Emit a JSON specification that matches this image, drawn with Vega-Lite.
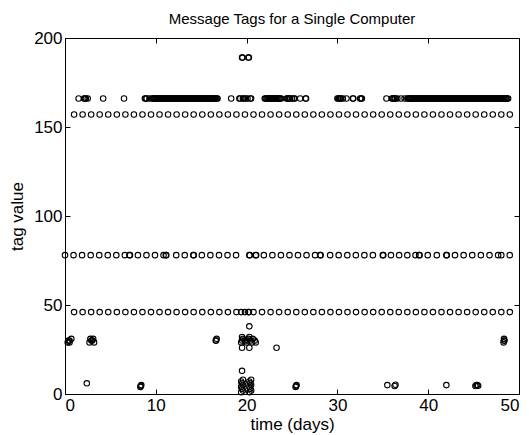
{
  "$schema": "https://vega.github.io/schema/vega-lite/v6.json",
  "width": 454,
  "height": 356,
  "autosize": {"type": "none"},
  "padding": {"left": 65, "top": 38, "right": 10, "bottom": 41},
  "background": "white",
  "title": {"text": "Message Tags for a Single Computer", "fontSize": 15, "font": "Liberation Sans", "fontWeight": "normal", "color": "black", "offset": 2, "anchor": "middle"},
  "config": {
    "view": {"stroke": "black", "strokeWidth": 1},
    "axis": {"labelFont": "Liberation Sans", "titleFont": "Liberation Sans", "labelFontSize": 17, "titleFontSize": 17, "titleFontWeight": "normal", "labelColor": "black", "titleColor": "black", "domainColor": "black", "tickColor": "black", "grid": false, "tickSize": -5, "labelPadding": 8}
  },
  "datasets": {
    "pts": [
      {"t":1.00,"tag":157},{"t":1.94,"tag":157},{"t":2.88,"tag":157},{"t":3.82,"tag":157},{"t":4.76,"tag":157},{"t":5.71,"tag":157},{"t":6.65,"tag":157},{"t":7.59,"tag":157},{"t":8.53,"tag":157},{"t":9.47,"tag":157},{"t":10.41,"tag":157},{"t":11.35,"tag":157},{"t":12.29,"tag":157},{"t":13.23,"tag":157},{"t":14.17,"tag":157},{"t":15.12,"tag":157},{"t":16.06,"tag":157},{"t":17.00,"tag":157},{"t":17.94,"tag":157},{"t":18.88,"tag":157},{"t":19.82,"tag":157},{"t":20.76,"tag":157},{"t":21.70,"tag":157},{"t":22.64,"tag":157},{"t":23.58,"tag":157},{"t":24.53,"tag":157},{"t":25.47,"tag":157},{"t":26.41,"tag":157},{"t":27.35,"tag":157},{"t":28.29,"tag":157},{"t":29.23,"tag":157},{"t":30.17,"tag":157},{"t":31.11,"tag":157},{"t":32.05,"tag":157},{"t":33.00,"tag":157},{"t":33.94,"tag":157},{"t":34.88,"tag":157},{"t":35.82,"tag":157},{"t":36.76,"tag":157},{"t":37.70,"tag":157},{"t":38.64,"tag":157},{"t":39.58,"tag":157},{"t":40.52,"tag":157},{"t":41.46,"tag":157},{"t":42.40,"tag":157},{"t":43.35,"tag":157},{"t":44.29,"tag":157},{"t":45.23,"tag":157},{"t":46.17,"tag":157},{"t":47.11,"tag":157},{"t":48.05,"tag":157},{"t":48.99,"tag":157},

      {"t":1.00,"tag":46},{"t":1.94,"tag":46},{"t":2.88,"tag":46},{"t":3.82,"tag":46},{"t":4.76,"tag":46},{"t":5.71,"tag":46},{"t":6.65,"tag":46},{"t":7.59,"tag":46},{"t":8.53,"tag":46},{"t":9.47,"tag":46},{"t":10.41,"tag":46},{"t":11.35,"tag":46},{"t":12.29,"tag":46},{"t":13.23,"tag":46},{"t":14.17,"tag":46},{"t":15.12,"tag":46},{"t":16.06,"tag":46},{"t":17.00,"tag":46},{"t":17.94,"tag":46},{"t":18.88,"tag":46},{"t":19.40,"tag":46},{"t":19.82,"tag":46},{"t":20.20,"tag":46},{"t":20.25,"tag":46},{"t":20.76,"tag":46},{"t":21.70,"tag":46},{"t":22.64,"tag":46},{"t":23.58,"tag":46},{"t":24.53,"tag":46},{"t":25.47,"tag":46},{"t":26.41,"tag":46},{"t":27.35,"tag":46},{"t":28.29,"tag":46},{"t":29.23,"tag":46},{"t":30.17,"tag":46},{"t":31.11,"tag":46},{"t":32.05,"tag":46},{"t":33.00,"tag":46},{"t":33.94,"tag":46},{"t":34.88,"tag":46},{"t":35.82,"tag":46},{"t":36.76,"tag":46},{"t":37.70,"tag":46},{"t":38.64,"tag":46},{"t":39.58,"tag":46},{"t":40.52,"tag":46},{"t":41.46,"tag":46},{"t":42.40,"tag":46},{"t":43.35,"tag":46},{"t":44.29,"tag":46},{"t":45.23,"tag":46},{"t":46.17,"tag":46},{"t":47.11,"tag":46},{"t":48.05,"tag":46},{"t":48.99,"tag":46},

      {"t":0.00,"tag":78},{"t":0.94,"tag":78},{"t":1.88,"tag":78},{"t":2.83,"tag":78},{"t":3.77,"tag":78},{"t":4.71,"tag":78},{"t":5.65,"tag":78},{"t":6.59,"tag":78},{"t":7.10,"tag":78},{"t":7.15,"tag":78},{"t":8.03,"tag":78},{"t":8.97,"tag":78},{"t":9.91,"tag":78},{"t":10.85,"tag":78},{"t":11.10,"tag":78},{"t":11.15,"tag":78},{"t":12.25,"tag":78},{"t":13.19,"tag":78},{"t":14.13,"tag":78},{"t":14.18,"tag":78},{"t":15.07,"tag":78},{"t":16.01,"tag":78},{"t":16.96,"tag":78},{"t":17.90,"tag":78},{"t":18.84,"tag":78},{"t":20.30,"tag":78},{"t":20.35,"tag":78},{"t":21.00,"tag":78},{"t":21.05,"tag":78},{"t":21.90,"tag":78},{"t":22.84,"tag":78},{"t":23.78,"tag":78},{"t":24.72,"tag":78},{"t":25.66,"tag":78},{"t":26.60,"tag":78},{"t":27.54,"tag":78},{"t":28.10,"tag":78},{"t":28.15,"tag":78},{"t":29.20,"tag":78},{"t":30.14,"tag":78},{"t":31.09,"tag":78},{"t":32.03,"tag":78},{"t":32.97,"tag":78},{"t":33.91,"tag":78},{"t":35.00,"tag":78},{"t":35.05,"tag":78},{"t":35.90,"tag":78},{"t":36.80,"tag":78},{"t":37.70,"tag":78},{"t":38.60,"tag":78},{"t":39.00,"tag":78},{"t":39.05,"tag":78},{"t":39.95,"tag":78},{"t":40.95,"tag":78},{"t":42.00,"tag":78},{"t":42.05,"tag":78},{"t":42.95,"tag":78},{"t":43.90,"tag":78},{"t":44.85,"tag":78},{"t":45.80,"tag":78},{"t":46.75,"tag":78},{"t":47.70,"tag":78},{"t":48.98,"tag":78},{"t":48.05,"tag":78},

      {"t":1.5,"tag":166},{"t":2.1,"tag":166},{"t":2.2,"tag":166},{"t":2.3,"tag":166},{"t":2.5,"tag":166},{"t":4.2,"tag":166},{"t":6.5,"tag":166},
      {"t":8.8,"tag":166},{"t":8.9,"tag":166},{"t":9.0,"tag":166},{"t":9.3,"tag":166},{"t":9.6,"tag":166},{"t":9.7,"tag":166},{"t":9.8,"tag":166},{"t":9.9,"tag":166},{"t":10.0,"tag":166},{"t":10.1,"tag":166},{"t":10.2,"tag":166},{"t":10.3,"tag":166},{"t":10.4,"tag":166},{"t":10.5,"tag":166},{"t":10.6,"tag":166},{"t":10.7,"tag":166},{"t":10.8,"tag":166},{"t":10.9,"tag":166},{"t":11.0,"tag":166},{"t":11.1,"tag":166},{"t":11.2,"tag":166},{"t":11.3,"tag":166},{"t":11.4,"tag":166},{"t":11.5,"tag":166},{"t":11.6,"tag":166},{"t":11.7,"tag":166},{"t":11.8,"tag":166},{"t":11.9,"tag":166},{"t":12.0,"tag":166},{"t":12.1,"tag":166},{"t":12.2,"tag":166},{"t":12.3,"tag":166},{"t":12.4,"tag":166},{"t":12.5,"tag":166},{"t":12.6,"tag":166},{"t":12.7,"tag":166},{"t":12.8,"tag":166},{"t":12.9,"tag":166},{"t":13.0,"tag":166},{"t":13.1,"tag":166},{"t":13.2,"tag":166},{"t":13.3,"tag":166},{"t":13.4,"tag":166},{"t":13.5,"tag":166},{"t":13.6,"tag":166},{"t":13.7,"tag":166},{"t":13.8,"tag":166},{"t":13.9,"tag":166},{"t":14.0,"tag":166},{"t":14.1,"tag":166},{"t":14.2,"tag":166},{"t":14.3,"tag":166},{"t":14.4,"tag":166},{"t":14.5,"tag":166},{"t":14.6,"tag":166},{"t":14.7,"tag":166},{"t":14.8,"tag":166},{"t":14.9,"tag":166},{"t":15.0,"tag":166},{"t":15.1,"tag":166},{"t":15.2,"tag":166},{"t":15.3,"tag":166},{"t":15.4,"tag":166},{"t":15.5,"tag":166},{"t":15.6,"tag":166},{"t":15.7,"tag":166},{"t":15.8,"tag":166},{"t":15.9,"tag":166},{"t":16.0,"tag":166},{"t":16.1,"tag":166},{"t":16.2,"tag":166},{"t":16.3,"tag":166},{"t":16.4,"tag":166},{"t":16.5,"tag":166},{"t":16.6,"tag":166},{"t":16.7,"tag":166},{"t":16.8,"tag":166},
      {"t":18.3,"tag":166},{"t":19.2,"tag":166},{"t":19.3,"tag":166},{"t":19.6,"tag":166},{"t":19.7,"tag":166},{"t":19.9,"tag":166},{"t":20.1,"tag":166},{"t":20.4,"tag":166},{"t":20.5,"tag":166},
      {"t":22.0,"tag":166},{"t":22.1,"tag":166},{"t":22.2,"tag":166},{"t":22.3,"tag":166},{"t":22.4,"tag":166},{"t":22.5,"tag":166},{"t":22.6,"tag":166},{"t":22.7,"tag":166},{"t":22.8,"tag":166},{"t":22.9,"tag":166},{"t":23.0,"tag":166},{"t":23.1,"tag":166},{"t":23.2,"tag":166},{"t":23.3,"tag":166},{"t":23.4,"tag":166},{"t":23.5,"tag":166},{"t":23.6,"tag":166},{"t":23.7,"tag":166},{"t":23.8,"tag":166},
      {"t":24.4,"tag":166},{"t":24.5,"tag":166},{"t":24.6,"tag":166},{"t":24.7,"tag":166},{"t":24.8,"tag":166},{"t":25.0,"tag":166},{"t":25.2,"tag":166},{"t":25.3,"tag":166},{"t":25.9,"tag":166},{"t":26.5,"tag":166},{"t":26.55,"tag":166},
      {"t":30.0,"tag":166},{"t":30.1,"tag":166},{"t":30.2,"tag":166},{"t":30.3,"tag":166},{"t":30.4,"tag":166},{"t":30.6,"tag":166},{"t":31.0,"tag":166},{"t":31.7,"tag":166},{"t":31.75,"tag":166},{"t":32.5,"tag":166},{"t":32.6,"tag":166},{"t":32.7,"tag":166},
      {"t":35.4,"tag":166},{"t":36.0,"tag":166},{"t":36.1,"tag":166},{"t":36.2,"tag":166},{"t":36.3,"tag":166},{"t":36.4,"tag":166},{"t":36.6,"tag":166},{"t":37.0,"tag":166},{"t":37.4,"tag":166},
      {"t":37.7,"tag":166},{"t":37.8,"tag":166},{"t":37.9,"tag":166},{"t":38.0,"tag":166},{"t":38.1,"tag":166},{"t":38.2,"tag":166},{"t":38.3,"tag":166},{"t":38.4,"tag":166},{"t":38.5,"tag":166},{"t":38.6,"tag":166},{"t":38.7,"tag":166},{"t":38.8,"tag":166},{"t":38.9,"tag":166},{"t":39.0,"tag":166},{"t":39.1,"tag":166},{"t":39.2,"tag":166},{"t":39.3,"tag":166},{"t":39.4,"tag":166},{"t":39.5,"tag":166},{"t":39.6,"tag":166},{"t":39.7,"tag":166},{"t":39.8,"tag":166},{"t":39.9,"tag":166},{"t":40.0,"tag":166},{"t":40.1,"tag":166},{"t":40.2,"tag":166},{"t":40.3,"tag":166},{"t":40.4,"tag":166},{"t":40.5,"tag":166},{"t":40.6,"tag":166},{"t":40.7,"tag":166},{"t":40.8,"tag":166},{"t":40.9,"tag":166},{"t":41.0,"tag":166},{"t":41.1,"tag":166},{"t":41.2,"tag":166},{"t":41.3,"tag":166},{"t":41.4,"tag":166},{"t":41.5,"tag":166},{"t":41.6,"tag":166},{"t":41.7,"tag":166},{"t":41.8,"tag":166},{"t":41.9,"tag":166},{"t":42.0,"tag":166},{"t":42.1,"tag":166},{"t":42.2,"tag":166},{"t":42.3,"tag":166},{"t":42.4,"tag":166},{"t":42.5,"tag":166},{"t":42.6,"tag":166},{"t":42.7,"tag":166},{"t":42.8,"tag":166},{"t":42.9,"tag":166},{"t":43.0,"tag":166},{"t":43.1,"tag":166},{"t":43.2,"tag":166},{"t":43.3,"tag":166},{"t":43.4,"tag":166},{"t":43.5,"tag":166},{"t":43.6,"tag":166},{"t":43.7,"tag":166},{"t":43.8,"tag":166},{"t":43.9,"tag":166},{"t":44.0,"tag":166},{"t":44.1,"tag":166},{"t":44.2,"tag":166},{"t":44.3,"tag":166},{"t":44.4,"tag":166},{"t":44.5,"tag":166},{"t":44.6,"tag":166},{"t":44.7,"tag":166},{"t":44.8,"tag":166},{"t":44.9,"tag":166},{"t":45.0,"tag":166},{"t":45.1,"tag":166},{"t":45.2,"tag":166},{"t":45.3,"tag":166},{"t":45.4,"tag":166},{"t":45.5,"tag":166},{"t":45.6,"tag":166},{"t":45.7,"tag":166},{"t":45.8,"tag":166},{"t":45.9,"tag":166},{"t":46.0,"tag":166},{"t":46.1,"tag":166},{"t":46.2,"tag":166},{"t":46.3,"tag":166},{"t":46.4,"tag":166},{"t":46.5,"tag":166},{"t":46.6,"tag":166},{"t":46.7,"tag":166},{"t":46.8,"tag":166},{"t":46.9,"tag":166},{"t":47.0,"tag":166},{"t":47.1,"tag":166},{"t":47.2,"tag":166},{"t":47.3,"tag":166},{"t":47.4,"tag":166},{"t":47.5,"tag":166},{"t":47.6,"tag":166},{"t":47.7,"tag":166},{"t":47.8,"tag":166},{"t":47.9,"tag":166},{"t":48.0,"tag":166},{"t":48.1,"tag":166},{"t":48.2,"tag":166},{"t":48.3,"tag":166},{"t":48.4,"tag":166},{"t":48.5,"tag":166},{"t":48.6,"tag":166},{"t":48.7,"tag":166},{"t":48.8,"tag":166},

      {"t":19.5,"tag":189},{"t":19.55,"tag":189},{"t":20.2,"tag":189},{"t":20.25,"tag":189},

      {"t":0.3,"tag":29},{"t":0.5,"tag":30},{"t":0.7,"tag":31},{"t":0.5,"tag":29},{"t":0.4,"tag":30},
      {"t":2.7,"tag":29},{"t":2.9,"tag":30},{"t":3.1,"tag":31},{"t":3.2,"tag":29},{"t":3.0,"tag":30},{"t":2.8,"tag":31},
      {"t":16.6,"tag":30},{"t":16.7,"tag":31},{"t":16.65,"tag":30},
      {"t":19.4,"tag":29},{"t":19.6,"tag":31},{"t":19.8,"tag":30},{"t":20.0,"tag":29},{"t":20.2,"tag":31},{"t":20.4,"tag":30},{"t":20.6,"tag":29},{"t":20.9,"tag":30},{"t":21.0,"tag":29},{"t":19.5,"tag":32},{"t":20.3,"tag":32},{"t":19.5,"tag":30},{"t":20.1,"tag":30},{"t":20.7,"tag":31},
      {"t":19.5,"tag":26},{"t":20.3,"tag":26},
      {"t":48.3,"tag":29},{"t":48.4,"tag":30},{"t":48.35,"tag":31},{"t":48.35,"tag":30},
      {"t":20.3,"tag":38},{"t":19.5,"tag":13},{"t":23.3,"tag":26},
      {"t":2.4,"tag":6},{"t":8.3,"tag":4},{"t":8.4,"tag":5},{"t":8.35,"tag":4.5},
      {"t":19.4,"tag":1},{"t":19.4,"tag":4},{"t":19.4,"tag":7},{"t":19.6,"tag":2},{"t":19.6,"tag":5},{"t":19.6,"tag":8},{"t":19.5,"tag":3},{"t":19.5,"tag":6},
      {"t":20.3,"tag":1},{"t":20.3,"tag":4},{"t":20.3,"tag":7},{"t":20.5,"tag":2},{"t":20.5,"tag":5},{"t":20.5,"tag":8},{"t":20.4,"tag":3},{"t":20.4,"tag":6},
      {"t":25.4,"tag":4},{"t":25.5,"tag":5},{"t":25.45,"tag":4.5},{"t":35.5,"tag":5},{"t":36.3,"tag":4.5},{"t":36.4,"tag":5.2},{"t":42.0,"tag":5},{"t":45.2,"tag":4.5},{"t":45.4,"tag":5},{"t":45.5,"tag":4.6},{"t":45.3,"tag":5}
    ]
  },
  "data": {"name": "pts"},
  "layer": [
    {
      "mark": {"type": "point", "shape": "circle", "filled": false, "color": "black", "size": 30, "strokeWidth": 1.1, "opacity": 1},
      "encoding": {
        "x": {"field": "t", "type": "quantitative", "scale": {"domain": [0, 50], "nice": false, "zero": false}, "axis": {"values": [0, 10, 20, 30, 40, 50], "title": "time (days)", "titlePadding": 3}},
        "y": {"field": "tag", "type": "quantitative", "scale": {"domain": [0, 200], "nice": false}, "axis": {"values": [0, 50, 100, 150, 200], "title": "tag value", "titlePadding": 7}}
      }
    },
    {
      "mark": {"type": "point", "opacity": 0},
      "encoding": {
        "x": {"field": "t", "type": "quantitative", "scale": {"domain": [0, 50], "nice": false, "zero": false}, "axis": {"orient": "top", "values": [0, 10, 20, 30, 40, 50], "labels": false, "title": null, "domain": false}},
        "y": {"field": "tag", "type": "quantitative", "scale": {"domain": [0, 200], "nice": false}, "axis": {"orient": "right", "values": [0, 50, 100, 150, 200], "labels": false, "title": null, "domain": false}}
      }
    }
  ],
  "resolve": {"scale": {"x": "independent", "y": "independent"}, "axis": {"x": "independent", "y": "independent"}}
}
